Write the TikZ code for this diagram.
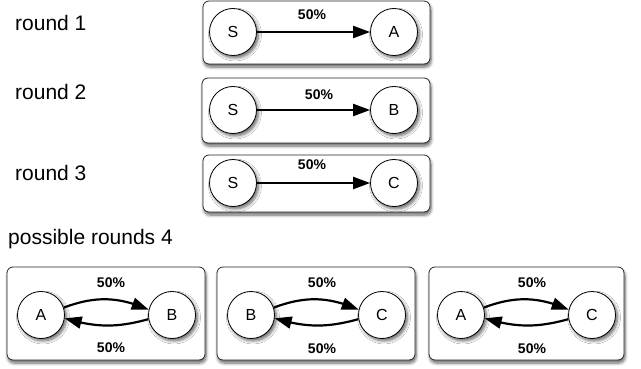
\documentclass[tikz,border=0pt]{standalone}
\usepackage{fontspec}
\setmainfont{Liberation Sans}
\usetikzlibrary{shadows.blur,arrows.meta,bending}
\begin{document}
\begin{tikzpicture}[x=1pt,y=-1pt,
  panel/.style={draw=black!85,line width=0.8pt,rounded corners=6pt,fill=white,inner sep=0pt,
     blur shadow={shadow xshift=1pt,shadow yshift=-3pt,shadow blur steps=7,shadow blur radius=3pt,shadow opacity=60}},
  st/.style={circle,draw=black,line width=0.8pt,fill=white,minimum size=47pt,inner sep=0pt,
     font=\fontsize{16}{18}\selectfont,
     blur shadow={shadow xshift=2pt,shadow yshift=-2.5pt,shadow blur steps=6,shadow blur radius=3pt,shadow opacity=60}},
  pct/.style={font=\fontsize{14}{16}\selectfont\bfseries},
  caption/.style={font=\fontsize{21}{24}\selectfont,anchor=base west,inner sep=0pt},
  conn/.style={line width=2.2pt,-{Triangle[length=17pt,width=12pt,flex]}}]
\useasboundingbox (0,0) rectangle (641,369);
% captions
\node[caption] (r1) at (15,31) {round 1};
\node[caption] (r2) at (15,100) {round 2};
\node[caption] (r3) at (15,180) {round 3};
\node[caption] (r4) at (8,244) {possible rounds 4};
% panels
\node[panel,minimum width=227pt,minimum height=63pt] (p1) at (316.5,32.5) {};
\node[panel,minimum width=228pt,minimum height=65pt] (p2) at (316,110.5) {};
\node[panel,minimum width=227pt,minimum height=57pt] (p3) at (316.5,183.5) {};
\node[panel,minimum width=198pt,minimum height=93pt] (pa) at (106,313.5) {};
\node[panel,minimum width=198pt,minimum height=93pt] (pb) at (316,313.5) {};
\node[panel,minimum width=195pt,minimum height=93pt] (pc) at (526.5,313.5) {};
% round 1
\node[st] (s1) at (233,32) {S};
\node[st] (a1) at (394,32) {A};
\draw[conn] (s1) -- (a1);
\node[pct] (l1) at (312,15) {50\%};
% round 2
\node[st] (s2) at (233,110) {S};
\node[st] (b2) at (394,110) {B};
\draw[conn] (s2) -- (b2);
\node[pct] (l2) at (319,95) {50\%};
% round 3
\node[st] (s3) at (233,183) {S};
\node[st] (c3) at (394,183) {C};
\draw[conn] (s3) -- (c3);
\node[pct] (l3) at (312,165) {50\%};
% round 4 a
\node[st] (a4) at (41,315) {A};
\node[st] (b4) at (172,315) {B};
\draw[conn] (a4.18) to[bend left=22] (b4.167);
\draw[conn] (b4.-170) to[bend left=16] (a4.-8);
\node[pct] (la1) at (111,283) {50\%};
\node[pct] (la2) at (111,348) {50\%};
% round 4 b
\node[st] (b5) at (251,315) {B};
\node[st] (c5) at (382,315) {C};
\draw[conn] (b5.18) to[bend left=22] (c5.167);
\draw[conn] (c5.-170) to[bend left=16] (b5.-8);
\node[pct] (lb1) at (322,283) {50\%};
\node[pct] (lb2) at (322,349) {50\%};
% round 4 c
\node[st] (a6) at (461,315) {A};
\node[st] (c6) at (592,315) {C};
\draw[conn] (a6.18) to[bend left=22] (c6.167);
\draw[conn] (c6.-170) to[bend left=16] (a6.-8);
\node[pct] (lc1) at (532,283) {50\%};
\node[pct] (lc2) at (532,349) {50\%};
\end{tikzpicture}
\end{document}
